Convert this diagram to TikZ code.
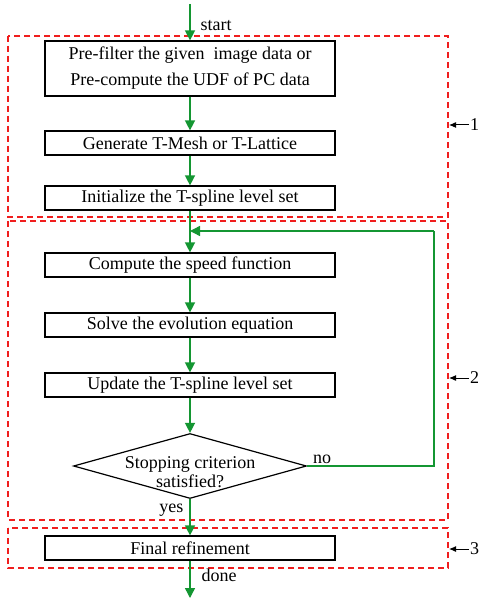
\documentclass[tikz,border=0pt]{standalone}
\usepackage{fontspec}
\setmainfont{Liberation Serif}
\usetikzlibrary{arrows.meta,shapes.geometric}

\definecolor{flowgreen}{RGB}{20,150,50}
\definecolor{groupred}{RGB}{240,30,30}

\tikzset{
  stepbox/.style={draw, line width=1.2pt, minimum width=290pt, minimum height=24pt, inner sep=1pt, font=\fontsize{18}{26}\selectfont},
  flow/.style={draw=flowgreen, line width=1.4pt, -{Triangle[length=10pt,width=10pt]}},
  flowline/.style={draw=flowgreen, line width=1.4pt},
  group/.style={draw=groupred, line width=1.2pt, dash pattern=on 6pt off 4pt},
  tag/.style={font=\fontsize{18}{20}\selectfont, inner sep=1pt},
}

\begin{document}
\begin{tikzpicture}[x=1pt,y=-1pt]
  \useasboundingbox (0,0) rectangle (481,601);

  % groups
  \draw[group] (8,36) rectangle (448,217);
  \draw[group] (8,221) rectangle (448,520);
  \draw[group] (8,528) rectangle (448,568);

  % steps
  \node[stepbox, minimum height=55pt, align=center] (prefilter) at (190,68.5)
    {Pre-filter the given\ \ image data or\\Pre-compute the UDF of PC data};
  \node[stepbox] (mesh) at (190,143) {Generate T-Mesh or T-Lattice};
  \node[stepbox] (init) at (190,198) {Initialize the T-spline level set};
  \node[stepbox] (speed) at (190,265) {Compute the speed function};
  \node[stepbox] (evolve) at (190,325) {Solve the evolution equation};
  \node[stepbox] (update) at (190,385) {Update the T-spline level set};
  \node[draw, line width=1.2pt, shape=diamond, aspect=3.6, minimum width=233pt, minimum height=65pt,
        inner sep=0pt] (stop) at (190,466) {};
  \node[align=center, font=\fontsize{18}{19}\selectfont, inner sep=0pt] (stoptext) at (190,472)
    {Stopping criterion\\satisfied?};
  \node[stepbox] (final) at (190,548) {Final refinement};

  \coordinate (begin) at (190,4);
  \coordinate (end) at (190,598);
  \coordinate (loop) at (190,231);
  \coordinate (corner) at (434,466);

  % connectors
  \draw[flow] (begin) -- node[right, tag, xshift=9pt, yshift=-3pt] {start} (prefilter);
  \draw[flow] (prefilter) -- (mesh);
  \draw[flow] (mesh) -- (init);
  \draw[flow] (init) -- (speed);
  \draw[flow] (speed) -- (evolve);
  \draw[flow] (evolve) -- (update);
  \draw[flow] (update) -- (stop);
  \draw[flow] (stop) -- node[left, tag, pos=0.3, xshift=-5pt] {yes} (final);
  \draw[flow] (final) -- node[right, tag, xshift=10pt, pos=0.4] {done} (end);
  \draw[flowline] (stop.east) -- (corner) |- (434,231);
  \draw[flow] (434,231) -- (loop);
  \node[tag, anchor=south west] (no) at (312,465) {no};

  % group marks
  \foreach \y/\n in {125/1, 378/2, 549/3} {
    \node[tag, anchor=west] (mark\n) at (469,\y) {\n};
    \draw[line width=1pt, -{Latex[length=7pt,width=6pt]}] (mark\n.west) -- (449,\y);
  }
\end{tikzpicture}
\end{document}
